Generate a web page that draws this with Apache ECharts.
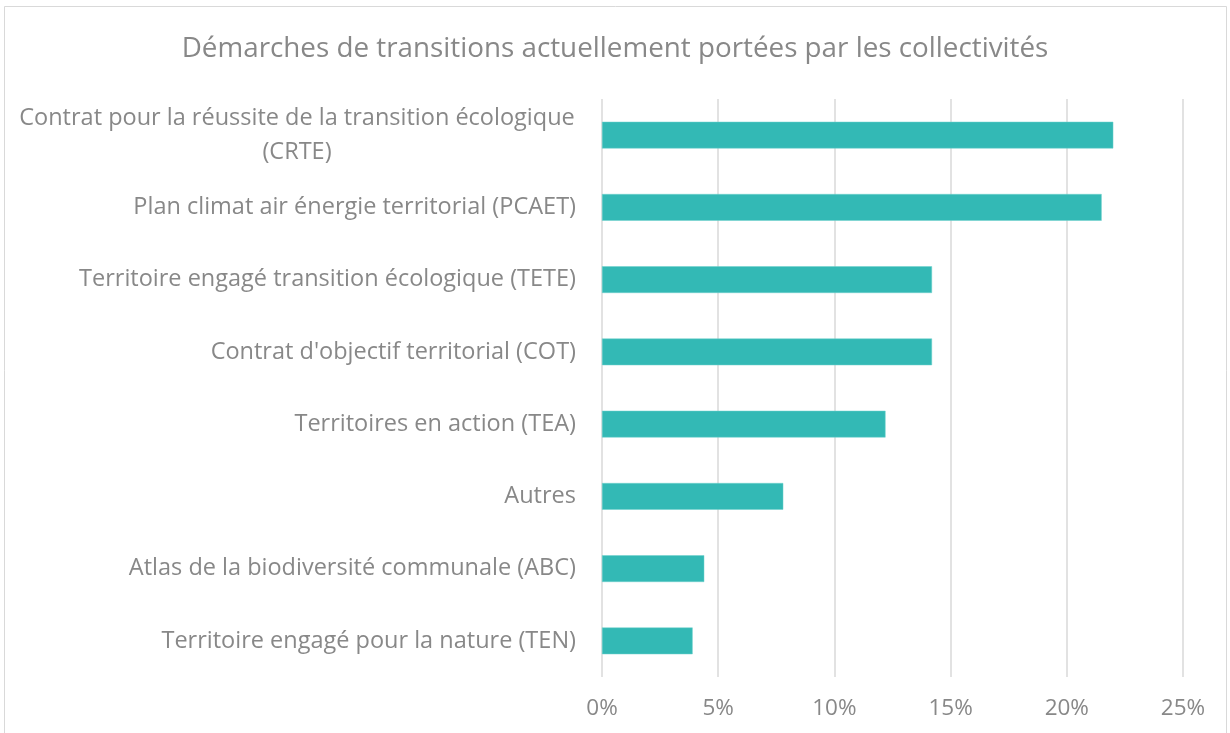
<!DOCTYPE html>
<html>
<head>
<meta charset="utf-8">
<script src="https://cdn.jsdelivr.net/npm/echarts@6/dist/echarts.min.js"></script>
<style>html,body{margin:0;padding:0;background:#fff}#c{width:1230px;height:733px}</style>
</head>
<body>
<div id="c"></div>
<script>
const titleText = "Démarches de transitions actuellement portées par les collectivités";
const categories = [
  "Contrat pour la réussite de la transition écologique\n(CRTE)",
  "Plan climat air énergie territorial (PCAET)",
  "Territoire engagé transition écologique (TETE)",
  "Contrat d'objectif territorial (COT)",
  "Territoires en action (TEA)",
  "Autres",
  "Atlas de la biodiversité communale (ABC)",
  "Territoire engagé pour la nature (TEN)"
];
const values = [22.0, 21.5, 14.2, 14.2, 12.2, 7.8, 4.4, 3.9];
const xTicks = [0, 5, 10, 15, 20, 25];

const labelSize = 23.5;
const fam = 'Open Sans';
const cv = document.createElement('canvas').getContext('2d');
cv.font = labelSize + 'px "' + fam + '"';
function textW(s) { return Math.ceil(cv.measureText(s).width) + 2; }

const chart = echarts.init(document.getElementById('c'));
chart.setOption({
  backgroundColor: '#fff',
  animation: false,
  textStyle: { fontFamily: fam },
  title: {
    text: titleText,
    left: 'center',
    top: 30,
    textStyle: { fontFamily: fam, fontSize: 27.8, fontWeight: 'normal', color: '#888888' }
  },
  graphic: [{
    type: 'rect',
    shape: { x: 4.5, y: 6.5, width: 1222, height: 740 },
    style: { fill: 'none', stroke: '#d9d9d9', lineWidth: 1 },
    silent: true
  }],
  grid: { left: 602, right: 47, top: 99, bottom: 56, containLabel: false },
  xAxis: {
    type: 'value',
    min: xTicks[0],
    max: xTicks[xTicks.length - 1],
    interval: 5,
    axisLine: { show: false },
    axisTick: { show: false },
    splitLine: { show: true, lineStyle: { color: '#d9d9d9', width: 1.5 } },
    axisLabel: {
      formatter: v => v + '%',
      color: '#888888',
      fontSize: 22.5,
      fontFamily: fam,
      margin: 20
    }
  },
  yAxis: {
    type: 'category',
    data: categories,
    inverse: true,
    axisLine: { show: false },
    axisTick: { show: false },
    axisLabel: {
      color: '#888888',
      fontSize: labelSize,
      fontFamily: fam,
      margin: 26,
      lineHeight: 34,
      formatter: function (v) {
        if (v.indexOf('\n') >= 0) {
          return v.split('\n').map(s => '{c|' + s + '}').join('\n');
        }
        return v;
      },
      rich: {
        c: { width: textW(categories[0].split('\n')[0]), align: 'center', fontSize: labelSize, color: '#888888', fontFamily: fam, lineHeight: 34 }
      }
    }
  },
  series: [{
    type: 'bar',
    data: values,
    barWidth: '37%',
    itemStyle: { color: '#33B9B5', borderColor: '#6fd0cc', borderWidth: 0.5 }
  }]
});
</script>
</body>
</html>
